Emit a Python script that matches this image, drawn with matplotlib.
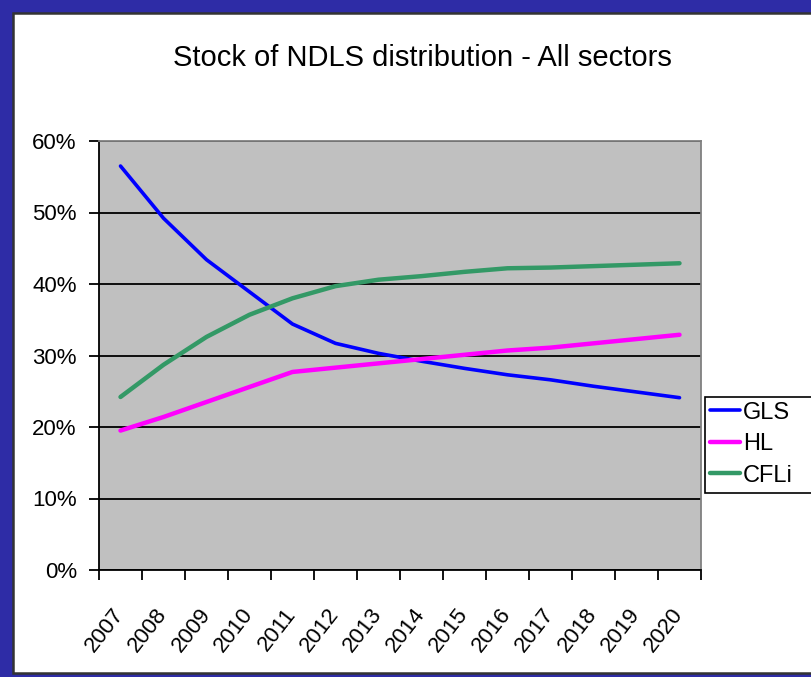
import matplotlib
matplotlib.use("Agg")
import matplotlib.pyplot as plt
import numpy as np
from matplotlib.patches import Rectangle

plt.rcParams["font.family"] = ["Liberation Sans", "DejaVu Sans"]

years = ["2007", "2008", "2009", "2010", "2011", "2012", "2013",
         "2014", "2015", "2016", "2017", "2018", "2019", "2020"]
gls = [0.565, 0.492, 0.434, 0.389, 0.344, 0.317, 0.303,
       0.292, 0.282, 0.273, 0.266, 0.257, 0.249, 0.241]
hl = [0.195, 0.214, 0.235, 0.256, 0.277, 0.283, 0.289,
      0.295, 0.301, 0.307, 0.311, 0.317, 0.323, 0.329]
cfli = [0.242, 0.287, 0.326, 0.357, 0.380, 0.397, 0.406,
        0.411, 0.417, 0.422, 0.423, 0.425, 0.427, 0.429]
series = [("GLS", gls, "#0000FF", 2.6), ("HL", hl, "#FF00FF", 3.2), ("CFLi", cfli, "#339966", 3.2)]
yticks = [0.0, 0.1, 0.2, 0.3, 0.4, 0.5, 0.6]

W, H = 811, 677
fig = plt.figure(figsize=(W / 100, H / 100), dpi=100)
fig.patch.set_facecolor("#2E2CA6")

# white chart area with dark border, kept behind the axes
fig.patches.append(Rectangle((13 / W, 1 - 673 / H), 1.0, (673 - 13) / H,
                             transform=fig.transFigure, facecolor="white",
                             edgecolor="#333333", lw=1.8, zorder=-5))

ax = fig.add_axes([99 / W, 1 - 570 / H, (701 - 99) / W, (570 - 141) / H])
ax.set_zorder(2)
ax.set_facecolor("#C0C0C0")
x = np.arange(len(years))
for name, vals, col, lw in series:
    ax.plot(x, vals, color=col, lw=lw, label=name, solid_capstyle="round",
            solid_joinstyle="round", zorder=3)

ax.set_xlim(-0.5, len(years) - 0.5)
ax.set_ylim(0, 0.6)
ax.set_yticks(yticks)
ax.set_yticklabels([f"{int(round(v * 100))}%" for v in yticks], fontsize=16)
ax.yaxis.grid(True, color="black", lw=1.3)
ax.set_axisbelow(True)
ax.tick_params(axis="y", length=7, width=1.3, pad=9, direction="out")

ax.set_xticks(np.arange(-0.5, len(years), 1.0))
ax.set_xticklabels([])
ax.set_xticks(x, minor=True)
ax.set_xticklabels(years, minor=True, rotation=52, ha="right", va="center",
                   rotation_mode="anchor", fontsize=16)
ax.tick_params(axis="x", which="major", length=7, width=1.3, direction="out")
ax.tick_params(axis="x", which="minor", length=0, pad=29)

for side in ("top", "right"):
    ax.spines[side].set_color("#808080")
    ax.spines[side].set_linewidth(1.3)
for side in ("left", "bottom"):
    ax.spines[side].set_color("black")
    ax.spines[side].set_linewidth(1.3)

fig.text(422 / W, 1 - 58 / H, "Stock of NDLS distribution - All sectors",
         ha="center", va="center", fontsize=21)

# legend box runs off the right edge of the picture, as in the source
ax.add_patch(Rectangle((705 / W, 1 - 493 / H), 200 / W, 96 / H,
                       transform=fig.transFigure, facecolor="white",
                       edgecolor="black", lw=1.2, clip_on=False, zorder=4))
leg = ax.legend(loc="upper left", bbox_to_anchor=(705 / W, 1 - 397 / H),
                bbox_transform=fig.transFigure, fontsize=17, frameon=False,
                handlelength=1.3, handletextpad=0.1, borderpad=0.2,
                labelspacing=0.4, borderaxespad=0)
leg.set_zorder(5)

fig.savefig("out.png", dpi=100, facecolor=fig.get_facecolor())
